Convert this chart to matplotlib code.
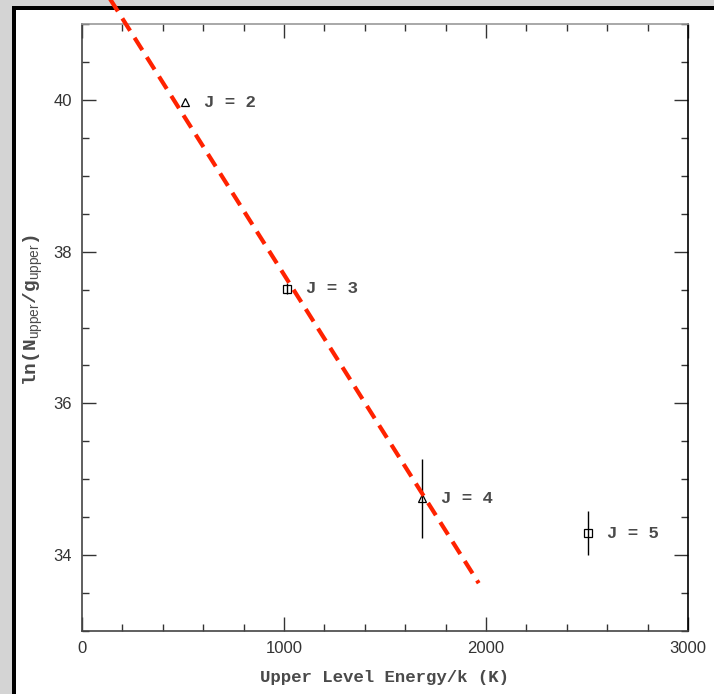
import matplotlib.pyplot as plt
from matplotlib.patches import Rectangle
from matplotlib.ticker import MultipleLocator

plt.rcParams['mathtext.fontset'] = 'custom'
plt.rcParams['mathtext.rm'] = 'Liberation Sans'

# rotational levels (upper level energy, ln(N/g), error)
levels = ['J = 2', 'J = 3', 'J = 4', 'J = 5']
energy = [510, 1015, 1683, 2505]
ln_ng = [39.97, 37.51, 34.75, 34.29]
ln_err = [0.0, 0.07, 0.52, 0.29]
markers = ['^', 's', '^', 's']

# rotation-diagram fit (dashed red line)
fit_x = [120, 1964]
fit_y = [41.41, 33.63]

label_font = 'Liberation Mono'
label_kw = dict(family=label_font, fontweight='bold', color='#4a4a4a')

fig = plt.figure(figsize=(7.14, 6.94), dpi=100)
fig.patch.set_facecolor('white')

# grey page background and black frame of the screenshot
fig.patches.append(Rectangle((0, 0), 1, 1, transform=fig.transFigure,
                             facecolor='#d4d4d4', edgecolor='none', zorder=-3))
fig.patches.append(Rectangle((12 / 714, 0), 1, 1 - 6 / 694, transform=fig.transFigure,
                             facecolor='black', edgecolor='none', zorder=-2))
fig.patches.append(Rectangle((16 / 714, 0), 1, 1 - 10 / 694, transform=fig.transFigure,
                             facecolor='white', edgecolor='none', zorder=-1))

ax = fig.add_axes([82 / 714, 1 - 631 / 694, 606 / 714, 607 / 694])
ax.patch.set_alpha(0)

for x, y, e, m, lab in zip(energy, ln_ng, ln_err, markers, levels):
    if e > 0:
        ax.errorbar(x, y, yerr=e, fmt='none', ecolor='black', elinewidth=1.0, capsize=0)
    ax.plot(x, y, marker=m, markersize=6, markerfacecolor='none',
            markeredgecolor='black', markeredgewidth=0.9, linestyle='none')
    ax.text(x + 95, y, lab, fontsize=12.5, va='center', ha='left', **label_kw)

ax.plot(fit_x, fit_y, color='#ff2200', linewidth=3, linestyle=(0, (3.5, 2)),
        clip_on=False, zorder=5)

ax.set_xlim(0, 3000)
ax.set_ylim(33, 41)
ax.xaxis.set_major_locator(MultipleLocator(1000))
ax.xaxis.set_minor_locator(MultipleLocator(200))
ax.yaxis.set_major_locator(MultipleLocator(2))
ax.yaxis.set_minor_locator(MultipleLocator(0.5))
ax.tick_params(which='both', direction='in', top=True, right=True,
               labelsize=12, colors='#333333', width=1.0)
ax.tick_params(which='major', length=10)
ax.tick_params(which='minor', length=5)
for lbl in ax.get_xticklabels() + ax.get_yticklabels():
    lbl.set_family('Liberation Sans')
ax.tick_params(axis='x', pad=7)
ax.tick_params(axis='y', pad=7)

for side in ['left', 'bottom']:
    ax.spines[side].set_color('#444444')
ax.spines['top'].set_color('#999999')
ax.spines['right'].set_color('black')
for sp in ax.spines.values():
    sp.set_linewidth(1.2)

ax.set_xlabel('Upper Level Energy/k (K)', fontsize=12.5, labelpad=10, **label_kw)
ax.set_ylabel(r'ln(N$_{\rm upper}$/g$_{\rm upper}$)', fontsize=14, **label_kw)
ax.yaxis.set_label_coords(-0.061, 0.529)

fig.savefig('out.png', dpi=100)
